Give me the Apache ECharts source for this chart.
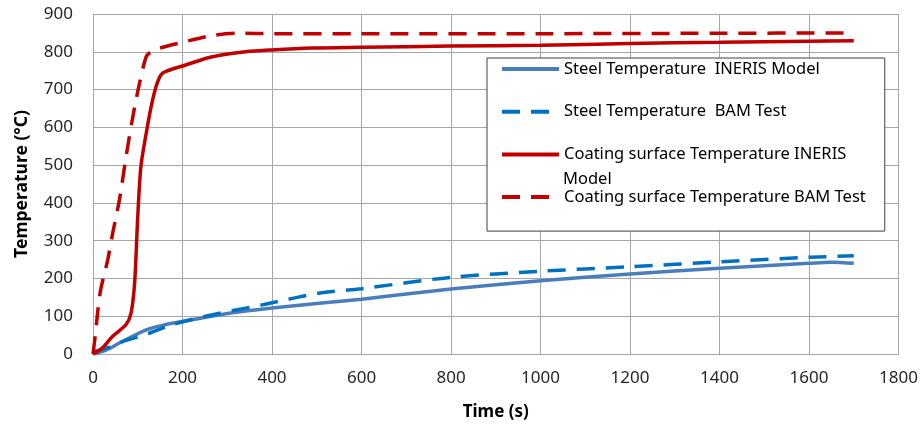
<!DOCTYPE html>
<html>
<head>
<meta charset="utf-8">
<script src="https://cdn.jsdelivr.net/npm/echarts@6/dist/echarts.min.js"></script>
<style>
  html, body { margin: 0; padding: 0; background: #fff; }
  #chart { width: 921px; height: 427px; }
</style>
</head>
<body>
<div id="chart"></div>
<script>
    // values (time in s, temperature in °C)
    let steelModelTime = [0, 30, 59, 119, 163, 200, 304, 400, 600, 800, 1000, 1200, 1400, 1600, 1650, 1700];
    let steelModelTemp = [0, 11, 29, 64, 78, 86, 108, 122, 145, 172, 194, 212, 227, 240, 243, 240];

    let steelTestTime = [0, 30, 59, 126, 178, 267, 378, 504, 600, 800, 1000, 1200, 1400, 1600, 1700];
    let steelTestTemp = [6, 15, 30, 55, 78, 104, 130, 161, 173, 203, 219, 231, 244, 256, 260];

    let coatModelTime = [0, 20, 44, 74, 85, 93, 100, 107, 119, 130, 141, 152, 163, 207, 267, 341, 400, 489, 600, 800, 1000, 1200, 1400, 1600, 1700];
    let coatModelTemp = [0, 15, 47, 78, 108, 188, 364, 496, 585, 655, 708, 739, 748, 765, 787, 800, 805, 810, 812, 815, 817, 822, 825, 828, 829];

    let coatTestTime = [0, 4, 16, 33, 44, 59, 74, 89, 104, 119, 130, 150, 193, 266, 326, 400, 600, 1000, 1400, 1700];
    let coatTestTemp = [0, 38, 162, 250, 320, 408, 523, 628, 717, 787, 800, 810, 823, 843, 849, 848, 848, 848, 849, 850];

    let seriesNames = [
        'Steel Temperature  INERIS Model',
        'Steel Temperature  BAM Test',
        'Coating surface Temperature INERIS Model',
        'Coating surface Temperature BAM Test'
    ];

    // zip time/temperature into [x, y] pairs
    function pairs(t, v) {
        return t.map((x, i) => [x, v[i]]);
    }

    let font = '"Noto Sans", "Open Sans", sans-serif';

    function line(name, data, color, dashed) {
        return {
            name: name,
            type: 'line',
            data: data,
            symbol: 'none',
            smooth: 0.3,
            animation: false,
            lineStyle: {
                color: color,
                width: 3.5,
                type: dashed ? [18, 11] : 'solid',
                cap: 'butt'
            },
            itemStyle: { color: color }
        };
    }

    let chart = echarts.init(document.getElementById('chart'));
    chart.setOption({
        animation: false,
        textStyle: { fontFamily: font },
        grid: { left: 93, right: 20, top: 14, bottom: 73 },
        xAxis: {
            type: 'value',
            min: 0, max: 1800, interval: 200,
            name: 'Time (s)',
            nameLocation: 'middle',
            nameGap: 50,
            nameTextStyle: { fontSize: 17, fontWeight: 'bold', color: '#000', fontFamily: font },
            axisLine: { lineStyle: { color: '#a6a6a6' } },
            axisTick: { show: false },
            axisLabel: { fontSize: 17, color: '#262626', margin: 16, formatter: v => String(v) },
            splitLine: { lineStyle: { color: '#a6a6a6' } }
        },
        yAxis: {
            type: 'value',
            min: 0, max: 900, interval: 100,
            name: 'Temperature (°C)',
            nameLocation: 'middle',
            nameGap: 62,
            nameRotate: 90,
            nameTextStyle: { fontSize: 17.5, fontWeight: 'bold', color: '#000', fontFamily: font },
            axisLine: { show: true, lineStyle: { color: '#a6a6a6' } },
            axisTick: { show: false },
            axisLabel: { fontSize: 17, color: '#262626', margin: 20 },
            splitLine: { lineStyle: { color: '#a6a6a6' } }
        },
        legend: {
            orient: 'vertical',
            left: 487,
            top: 58,
            padding: [1, 19, 24, 13],
            itemGap: 22.7,
            itemWidth: 57,
            itemHeight: 14,
            backgroundColor: '#fff',
            borderColor: '#404040',
            borderWidth: 1,
            itemStyle: { opacity: 0 },
            lineStyle: { width: 4 },
            textStyle: { fontSize: 16.5, lineHeight: 20, color: '#000', fontFamily: font },
            formatter: function (name) {
                // the third entry wraps; its last word is drawn below as a separate text
                if (name === seriesNames[2]) return 'Coating surface Temperature INERIS';
                return name;
            },
            data: seriesNames
        },
        graphic: [
            {
                type: 'text',
                left: 563,
                top: 169,
                z: 100,
                style: { text: 'Model', fontSize: 16.5, lineHeight: 20, fill: '#000', fontFamily: font }
            }
        ],
        series: [
            line(seriesNames[0], pairs(steelModelTime, steelModelTemp), '#4a7ebb', false),
            line(seriesNames[1], pairs(steelTestTime, steelTestTemp), '#0070c0', true),
            line(seriesNames[2], pairs(coatModelTime, coatModelTemp), '#c00000', false),
            line(seriesNames[3], pairs(coatTestTime, coatTestTemp), '#c00000', true)
        ]
    });
</script>
</body>
</html>
